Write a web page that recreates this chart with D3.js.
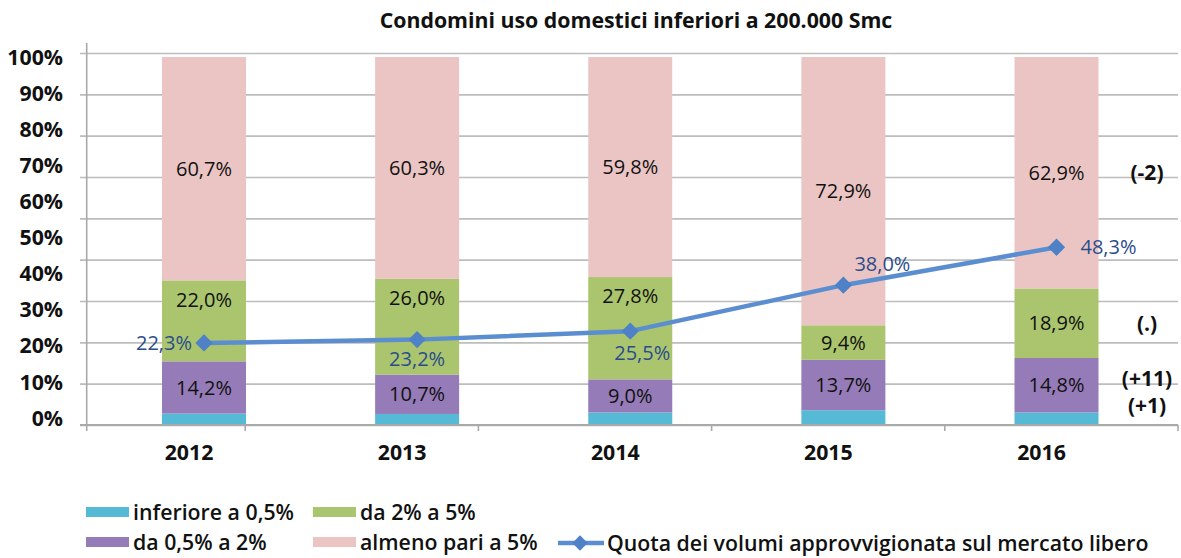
<!DOCTYPE html>
<html>
<head>
<meta charset="utf-8">
<script src="https://cdn.jsdelivr.net/npm/d3@7"></script>
<style>
  html, body { margin: 0; padding: 0; background: #fff; }
  svg { display: block; font-family: "Open Sans", "Noto Sans", sans-serif; }
</style>
</head>
<body>
<svg id="chart" width="1181" height="558"></svg>
<script>
// ---- data ----
const title = "Condomini uso domestici inferiori a 200.000 Smc";
const years = ["2012", "2013", "2014", "2015", "2016"];
const inferiore05 = [3.1, 3.0, 3.4, 4.0, 3.4];
const da05a2 = [14.2, 10.7, 9.0, 13.7, 14.8];
const da2a5 = [22.0, 26.0, 27.8, 9.4, 18.9];
const almeno5 = [60.7, 60.3, 59.8, 72.9, 62.9];
const quotaLibero = [22.3, 23.2, 25.5, 38.0, 48.3];
const yTickLabels = [0, 10, 20, 30, 40, 50, 60, 70, 80, 90, 100];
const seriesNames = ["inferiore a 0,5%", "da 0,5% a 2%", "da 2% a 5%", "almeno pari a 5%"];
const lineName = "Quota dei volumi approvvigionata sul mercato libero";
const annotations2016 = ["(+1)", "(+11)", "(.)", "(-2)"]; // one per stacked segment of 2016
const lineLabelPlacement = ["left", "below", "belowRight", "aboveRight", "right"];

// ---- styles ----
const colors = ["#56B9D5", "#957BB8", "#AAC56D", "#EBC5C4"];
const lineColor = "#5B8ED0";
const markerColor = "#4F81C7";
const lineLabelColor = "#2B4C8C";
const fmt = v => d3.format(".1f")(v).replace(".", ",") + "%";

const svg = d3.select("#chart");

// scales
const y = d3.scaleLinear().domain([0, 100]).range([425, 57]);
const yGrid = d3.scaleLinear().domain([0, 90]).range([425, 53]);
const yLabel = d3.scaleLinear().domain([0, 100]).range([418, 57]);
const x = d3.scalePoint().domain(years).range([204, 1056.5]);
const barW = 84;
const xTicks = d3.scaleBand().domain(years).range([12, 1178]);

// gridlines
svg.append("g")
  .attr("transform", "translate(80,0)")
  .call(d3.axisLeft(yGrid).ticks(9).tickSize(-1098).tickFormat(""))
  .call(g => g.select(".domain").remove())
  .call(g => g.selectAll("line").attr("stroke", "#BDBDBD").attr("stroke-width", 1.6));

// y-axis line
svg.append("line").attr("x1", 86.7).attr("x2", 86.7).attr("y1", 43).attr("y2", 431)
  .attr("stroke", "#A9A9A9").attr("stroke-width", 1.6);

// y tick labels
svg.append("g").selectAll("text").data(yTickLabels).join("text")
  .attr("x", 63).attr("y", d => yLabel(d)).attr("dy", "0.36em")
  .attr("text-anchor", "end").attr("font-weight", 700).attr("font-size", 21.3)
  .attr("fill", "#111").text(d => d + "%");

// stacked bars
const rows = years.map((yr, i) => ({ year: yr, s0: inferiore05[i], s1: da05a2[i], s2: da2a5[i], s3: almeno5[i], q: quotaLibero[i] }));
const stack = d3.stack().keys(["s0", "s1", "s2", "s3"])(rows);

const layers = svg.append("g").selectAll("g").data(stack).join("g")
  .attr("fill", (d, i) => colors[i]);
layers.selectAll("rect").data(d => d).join("rect")
  .attr("x", d => x(d.data.year) - barW / 2)
  .attr("width", barW)
  .attr("y", d => y(d[1]))
  .attr("height", d => y(d[0]) - y(d[1]));

// bottom axis
const xAxisG = svg.append("g").attr("transform", "translate(0,425)");
xAxisG.append("line").attr("x1", 80).attr("x2", 1178).attr("y1", 0).attr("y2", 0)
  .attr("stroke", "#A9A9A9").attr("stroke-width", 1.8);
xAxisG.selectAll("line.tick").data(years).join("line").attr("class", "tick")
  .attr("x1", d => xTicks(d) + xTicks.bandwidth()).attr("x2", d => xTicks(d) + xTicks.bandwidth())
  .attr("y1", 0).attr("y2", 6).attr("stroke", "#A9A9A9").attr("stroke-width", 1.6);
svg.append("g").selectAll("text").data(years).join("text")
  .attr("x", d => x(d) - 15).attr("y", 452).attr("dy", "0.36em")
  .attr("text-anchor", "middle").attr("font-weight", 700).attr("font-size", 21.3)
  .attr("fill", "#111").text(d => d);

// segment labels (skip smallest segment)
stack.forEach((layer, li) => {
  if (li === 0) return;
  svg.append("g").selectAll("text").data(layer).join("text")
    .attr("x", d => x(d.data.year))
    .attr("y", d => {
      const inSeg = d.data.q >= d[0] && d.data.q <= d[1];
      return (li === 2 && inSeg) ? y(d[1]) + 19 : (y(d[0]) + y(d[1])) / 2;
    })
    .attr("dy", "0.36em").attr("text-anchor", "middle")
    .attr("font-size", 20).attr("fill", "#111")
    .text(d => fmt(d[1] - d[0]));
});

// line series
const line = d3.line().x(d => x(d.year)).y(d => y(d.q));
svg.append("path").datum(rows).attr("d", line)
  .attr("fill", "none").attr("stroke", lineColor).attr("stroke-width", 4.5)
  .attr("stroke-linejoin", "round");
const diamond = d3.symbol().type(d3.symbolDiamond2).size(190);
svg.append("g").selectAll("path").data(rows).join("path")
  .attr("d", diamond)
  .attr("transform", d => `translate(${x(d.year)},${y(d.q)})`)
  .attr("fill", markerColor);

const placeOff = {
  left: { dx: -12, dy: 0, anchor: "end" },
  below: { dx: 0, dy: 19, anchor: "middle" },
  belowRight: { dx: 12, dy: 22, anchor: "middle" },
  aboveRight: { dx: 11, dy: -21, anchor: "start" },
  right: { dx: 24, dy: 0, anchor: "start" }
};
svg.append("g").selectAll("text").data(rows).join("text")
  .attr("x", (d, i) => x(d.year) + placeOff[lineLabelPlacement[i]].dx)
  .attr("y", (d, i) => y(d.q) + placeOff[lineLabelPlacement[i]].dy)
  .attr("dy", "0.36em")
  .attr("text-anchor", (d, i) => placeOff[lineLabelPlacement[i]].anchor)
  .attr("font-size", 20).attr("fill", lineLabelColor)
  .text(d => fmt(d.q));

// annotations next to 2016 bar (centered on segments, pushed apart from bottom)
const last = stack.map(l => l[l.length - 1]);
let prev = 405 + 27;
const annY = last.map(d => {
  const c = Math.min((y(d[0]) + y(d[1])) / 2, prev - 27);
  prev = c;
  return c;
});
svg.append("g").selectAll("text").data(annotations2016).join("text")
  .attr("x", 1147).attr("y", (d, i) => annY[i]).attr("dy", "0.36em")
  .attr("text-anchor", "middle").attr("font-weight", 700).attr("font-size", 21)
  .attr("fill", "#111").text(d => d);

// title
svg.append("text").attr("x", 636).attr("y", 20).attr("dy", "0.36em")
  .attr("text-anchor", "middle").attr("font-weight", 700).attr("font-size", 21.3)
  .attr("fill", "#111").text(title);

// legend
const legendPos = [[86, 512], [86, 542], [313, 512], [313, 542]];
const lg = svg.append("g");
seriesNames.forEach((name, i) => {
  const [lx, ly] = legendPos[i];
  lg.append("rect").attr("x", lx).attr("y", ly - 5).attr("width", 43).attr("height", 10).attr("fill", colors[i]);
  lg.append("text").attr("x", lx + 47).attr("y", ly).attr("dy", "0.36em")
    .attr("font-weight", 600).attr("font-size", 21.3).attr("fill", "#111").text(name);
});
lg.append("line").attr("x1", 558).attr("x2", 604).attr("y1", 543).attr("y2", 543)
  .attr("stroke", lineColor).attr("stroke-width", 4.5);
lg.append("path").attr("d", d3.symbol().type(d3.symbolDiamond2).size(150))
  .attr("transform", "translate(580,543)").attr("fill", markerColor);
lg.append("text").attr("x", 607).attr("y", 543).attr("dy", "0.36em")
  .attr("font-weight", 600).attr("font-size", 21.3).attr("fill", "#111").text(lineName);
</script>
</body>
</html>
